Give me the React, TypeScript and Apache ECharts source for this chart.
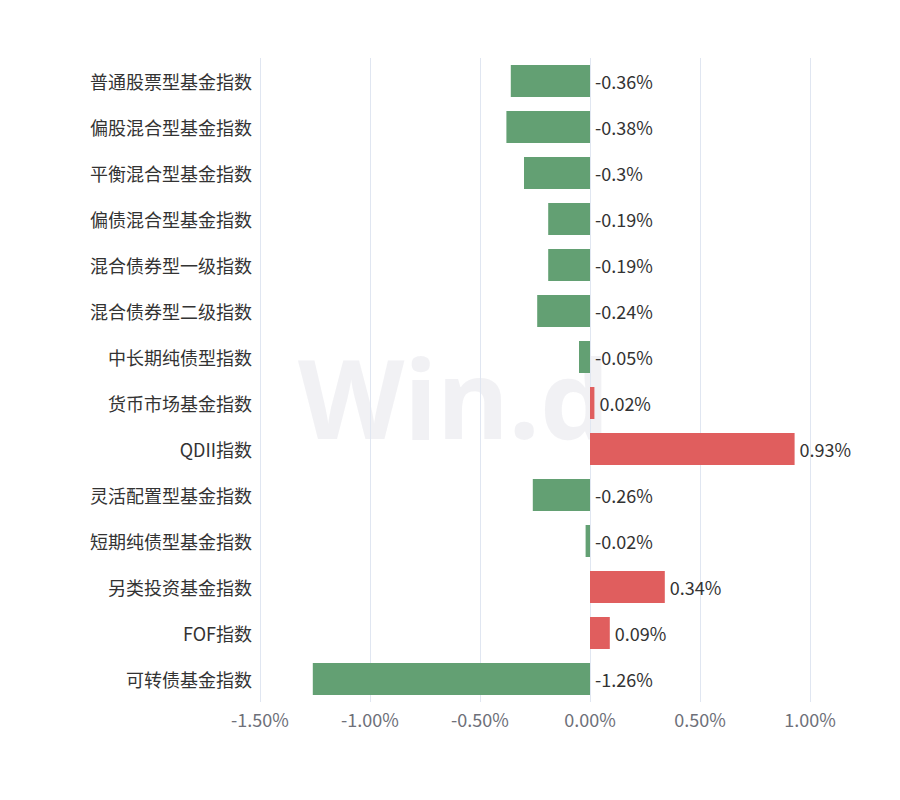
import React, { useEffect, useRef } from "react";
import * as echarts from "echarts";

const categories = [
  "普通股票型基金指数",
  "偏股混合型基金指数",
  "平衡混合型基金指数",
  "偏债混合型基金指数",
  "混合债券型一级指数",
  "混合债券型二级指数",
  "中长期纯债型指数",
  "货币市场基金指数",
  "QDII指数",
  "灵活配置型基金指数",
  "短期纯债型基金指数",
  "另类投资基金指数",
  "FOF指数",
  "可转债基金指数",
];
const values = [-0.36, -0.38, -0.3, -0.19, -0.19, -0.24, -0.05, 0.02, 0.93, -0.26, -0.02, 0.34, 0.09, -1.26];
const xMin = -1.5;
const xMax = 1.0;
const xInterval = 0.5;

const GREEN = "#63a073";
const RED = "#e05e5e";
const FONT = "'Noto Sans CJK SC', 'Noto Sans', sans-serif";

export default function App() {
  const ref = useRef<HTMLDivElement>(null);
  useEffect(() => {
    if (!ref.current) return;
    const chart = echarts.init(ref.current, undefined, { renderer: "svg" });
    chart.setOption({
      animation: false,
      textStyle: { fontFamily: FONT },
      graphic: [
        {
          type: "text",
          left: 290,
          top: 333,
          z: -10,
          silent: true,
          style: {
            text: "Win.d",
            fontSize: 110,
            fontWeight: "bold",
            fontFamily: "'Noto Sans', sans-serif",
            fill: "rgba(225,225,230,0.45)",
          },
        },
      ],
      grid: { left: 252, right: 98, top: 50, bottom: 106, containLabel: false },
      xAxis: {
        type: "value",
        min: xMin,
        max: xMax,
        interval: xInterval,
        axisLine: { show: false },
        axisTick: { show: false },
        axisLabel: {
          color: "#6e7079",
          fontSize: 18,
          margin: 8,
          fontFamily: FONT,
          formatter: (v: number) => v.toFixed(2) + "%",
        },
        splitLine: { show: true, lineStyle: { color: "#e0e6f1" } },
      },
      yAxis: {
        type: "category",
        data: categories,
        inverse: true,
        axisLine: { show: false },
        axisTick: { show: false },
        axisLabel: { color: "#333", fontSize: 18, margin: 8, fontFamily: FONT },
        splitLine: { show: false },
      },
      series: [
        {
          type: "bar",
          barWidth: 32,
          data: values.map((v) => ({
            value: v,
            itemStyle: { color: v >= 0 ? RED : GREEN },
          })),
          label: {
            show: true,
            position: "right",
            distance: 5,
            color: "#333",
            fontSize: 18,
            fontFamily: FONT,
            formatter: (p: any) => p.value + "%",
          },
        },
      ],
    });
    return () => chart.dispose();
  }, []);
  return <div ref={ref} style={{ width: 900, height: 800 }} />;
}
